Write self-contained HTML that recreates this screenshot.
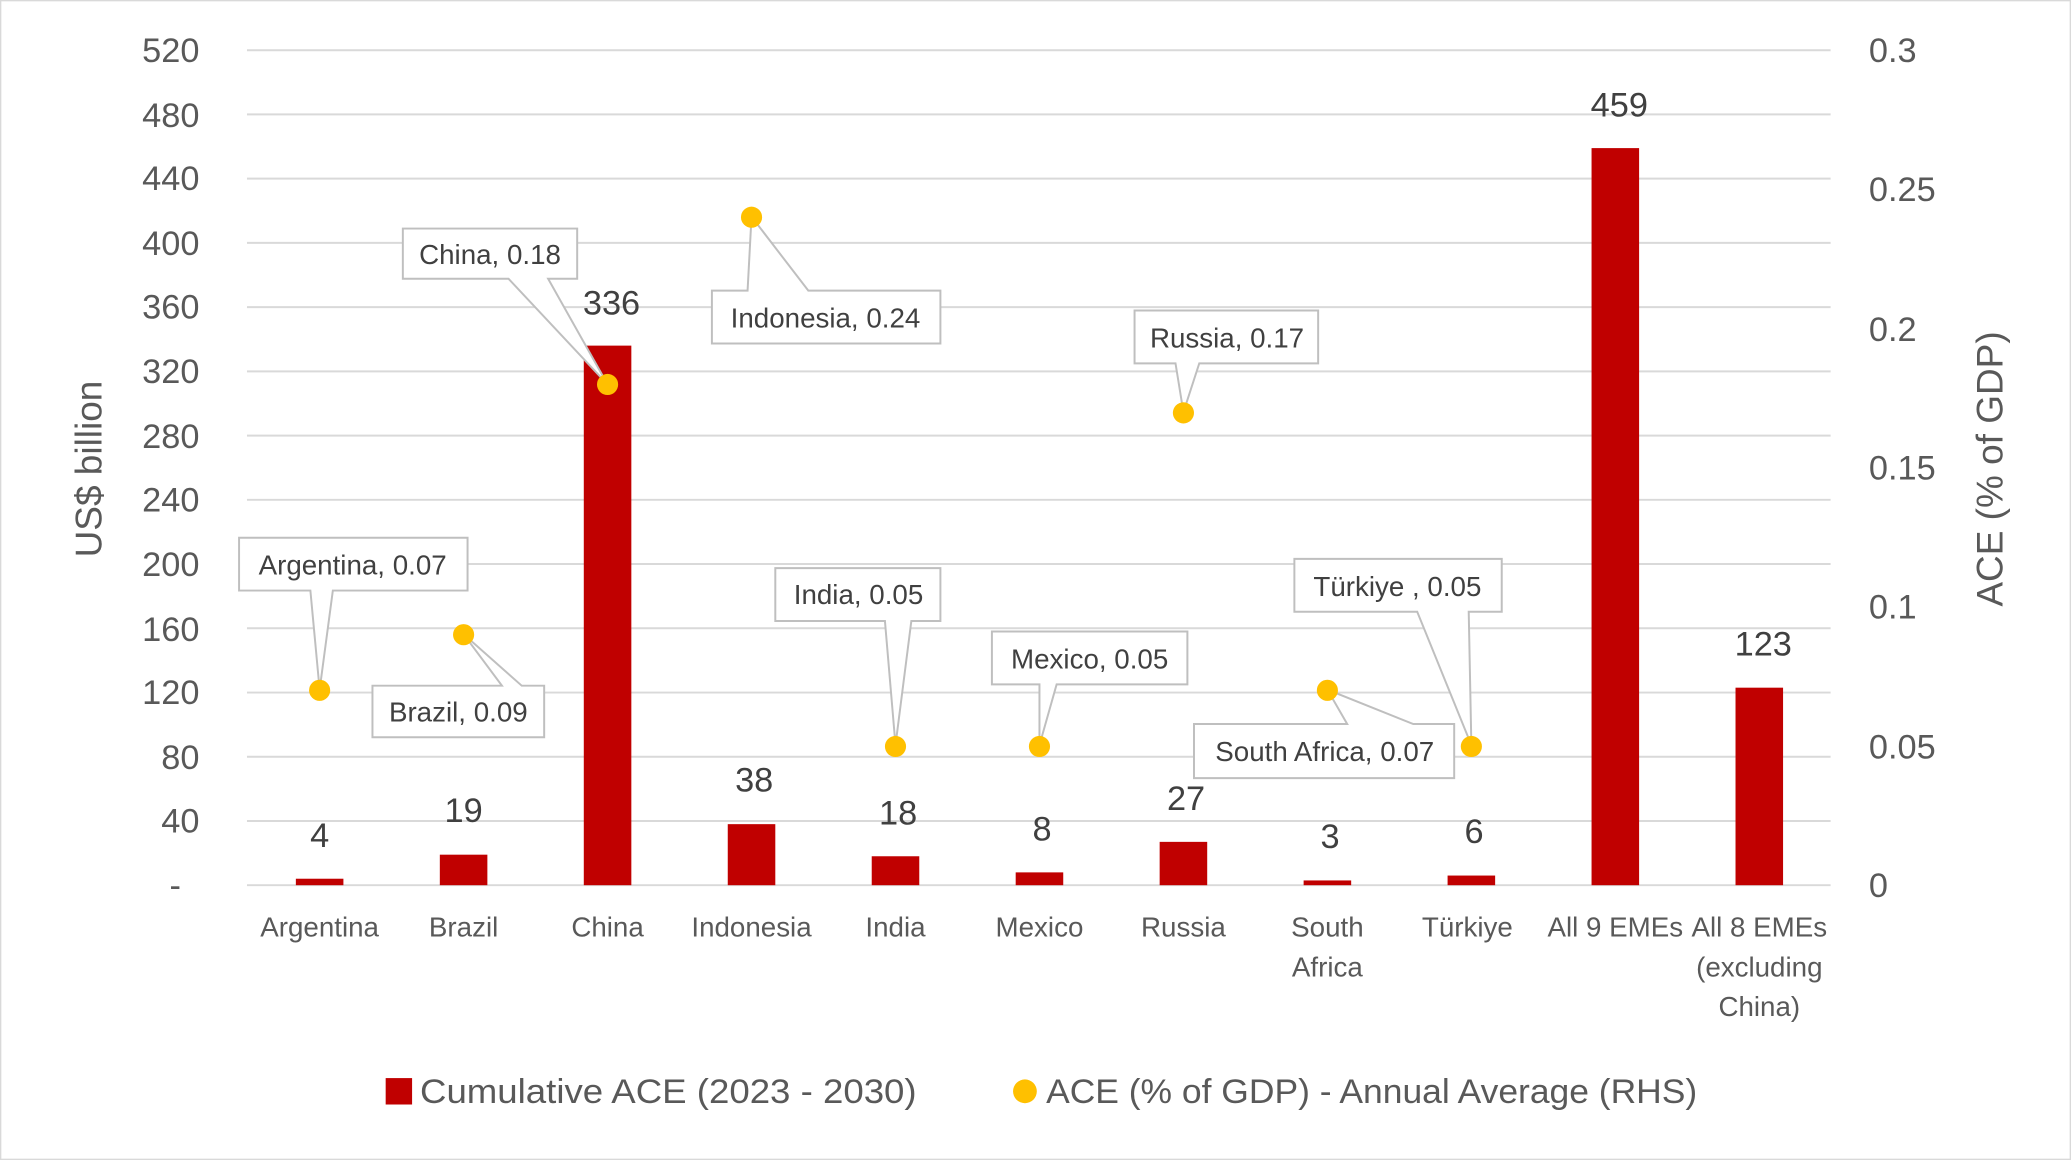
<!DOCTYPE html>
<html><head><meta charset="utf-8"><style>html,body{margin:0;padding:0;background:#fff}svg{display:block}</style></head>
<body>
<svg width="2071" height="1160" viewBox="0 0 1568 878" preserveAspectRatio="none" xmlns="http://www.w3.org/2000/svg" font-family="Liberation Sans, sans-serif">
<rect x="0.5" y="0.5" width="1567" height="877" fill="#fff" stroke="#d9d9d9"/>
<g stroke="#d9d9d9" stroke-width="1.5">
<line x1="187" x2="1386" y1="38" y2="38"/><line x1="187" x2="1386" y1="86.6" y2="86.6"/><line x1="187" x2="1386" y1="135.2" y2="135.2"/><line x1="187" x2="1386" y1="183.8" y2="183.8"/><line x1="187" x2="1386" y1="232.5" y2="232.5"/><line x1="187" x2="1386" y1="281.1" y2="281.1"/><line x1="187" x2="1386" y1="329.7" y2="329.7"/><line x1="187" x2="1386" y1="378.3" y2="378.3"/><line x1="187" x2="1386" y1="426.9" y2="426.9"/><line x1="187" x2="1386" y1="475.5" y2="475.5"/><line x1="187" x2="1386" y1="524.2" y2="524.2"/><line x1="187" x2="1386" y1="572.8" y2="572.8"/><line x1="187" x2="1386" y1="621.4" y2="621.4"/><line x1="187" x2="1386" y1="670" y2="670"/>
</g>
<g font-size="26" fill="#595959" text-anchor="end">
<text x="151" y="47">520</text><text x="151" y="96">480</text><text x="151" y="144">440</text><text x="151" y="193">400</text><text x="151" y="241">360</text><text x="151" y="290">320</text><text x="151" y="339">280</text><text x="151" y="387">240</text><text x="151" y="436">200</text><text x="151" y="485">160</text><text x="151" y="533">120</text><text x="151" y="582">80</text><text x="151" y="630">40</text><text x="137" y="679">-</text>
</g>
<g font-size="26" fill="#595959">
<text x="1415" y="47">0.3</text><text x="1415" y="152">0.25</text><text x="1415" y="258">0.2</text><text x="1415" y="363">0.15</text><text x="1415" y="468">0.1</text><text x="1415" y="574">0.05</text><text x="1415" y="679">0</text>
</g>
<text transform="translate(77,355) rotate(-90)" font-size="28" fill="#595959" text-anchor="middle">US$ billion</text>
<text transform="translate(1516,355) rotate(-90)" font-size="28" fill="#595959" text-anchor="middle">ACE (% of GDP)</text>
<g fill="#c00000">
<rect x="224" y="665.1" width="36" height="4.9"/>
<rect x="333" y="646.9" width="36" height="23.1"/>
<rect x="442" y="261.6" width="36" height="408.4"/>
<rect x="551" y="623.8" width="36" height="46.2"/>
<rect x="660" y="648.1" width="36" height="21.9"/>
<rect x="769" y="660.3" width="36" height="9.7"/>
<rect x="878" y="637.2" width="36" height="32.8"/>
<rect x="987" y="666.4" width="36" height="3.6"/>
<rect x="1096" y="662.7" width="36" height="7.3"/>
<rect x="1205" y="112.1" width="36" height="557.9"/>
<rect x="1314" y="520.5" width="36" height="149.5"/>
</g>
<g font-size="26" fill="#404040" text-anchor="middle">
<text x="242" y="641">4</text><text x="351" y="622">19</text><text x="463" y="238">336</text><text x="571" y="599">38</text><text x="680" y="624">18</text><text x="789" y="636">8</text><text x="898" y="613">27</text><text x="1007" y="642">3</text><text x="1116" y="638">6</text><text x="1226" y="88">459</text><text x="1335" y="496">123</text>
</g>
<g font-size="21" fill="#595959" text-anchor="middle">
<text x="242" y="709">Argentina</text><text x="351" y="709">Brazil</text><text x="460" y="709">China</text><text x="569" y="709">Indonesia</text><text x="678" y="709">India</text><text x="787" y="709">Mexico</text><text x="896" y="709">Russia</text><text x="1005" y="709">South</text><text x="1005" y="739">Africa</text><text x="1111" y="709">Türkiye</text><text x="1223" y="709">All 9 EMEs</text><text x="1332" y="709">All 8 EMEs</text><text x="1332" y="739">(excluding</text><text x="1332" y="769">China)</text>
</g>
<g fill="#fff" stroke="#bfbfbf" stroke-width="1.5">
<polygon points="181,407 354,407 354,447 252,447 242,522 235,447 181,447"/>
<polygon points="282,519 380,519 351,480 395,519 412,519 412,558 282,558"/>
<polygon points="305,173 437,173 437,211 415,211 460,291 385,211 305,211"/>
<polygon points="539,220 566,220 569,164 612,220 712,220 712,260 539,260"/>
<polygon points="859,235 998,235 998,275 908,275 896,312 890,275 859,275"/>
<polygon points="587,430 712,430 712,470 690,470 678,564 670,470 587,470"/>
<polygon points="751,478 899,478 899,518 800,518 787,564 787,518 751,518"/>
<polygon points="980,423 1137,423 1137,463 1112,463 1114,564 1073,463 980,463"/>
<polygon points="904,548 1020,548 1005,522 1070,548 1101,548 1101,589 904,589"/>
</g>
<g font-size="21" fill="#404040" text-anchor="middle">
<text x="267" y="435">Argentina, 0.07</text><text x="347" y="546">Brazil, 0.09</text><text x="371" y="200">China, 0.18</text><text x="625" y="248">Indonesia, 0.24</text><text x="929" y="263">Russia, 0.17</text><text x="650" y="457">India, 0.05</text><text x="825" y="506">Mexico, 0.05</text><text x="1058" y="451">Türkiye , 0.05</text><text x="1003" y="576">South Africa, 0.07</text>
</g>
<g fill="#ffc000">
<circle cx="242" cy="522.5" r="8"/><circle cx="351" cy="480.4" r="8"/><circle cx="460" cy="291" r="8"/><circle cx="569" cy="164.4" r="8"/><circle cx="678" cy="565" r="8"/><circle cx="787" cy="565" r="8"/><circle cx="896" cy="312.5" r="8"/><circle cx="1005" cy="522.5" r="8"/><circle cx="1114" cy="565" r="8"/>
</g>
<rect x="292" y="816" width="20" height="20" fill="#c00000"/>
<text x="318" y="835" font-size="26" fill="#595959" textLength="376" lengthAdjust="spacingAndGlyphs">Cumulative ACE (2023 - 2030)</text>
<circle cx="776" cy="826" r="9" fill="#ffc000"/>
<text x="792" y="835" font-size="26" fill="#595959" textLength="493" lengthAdjust="spacingAndGlyphs">ACE (% of GDP) - Annual Average (RHS)</text>
</svg>
</body></html>
